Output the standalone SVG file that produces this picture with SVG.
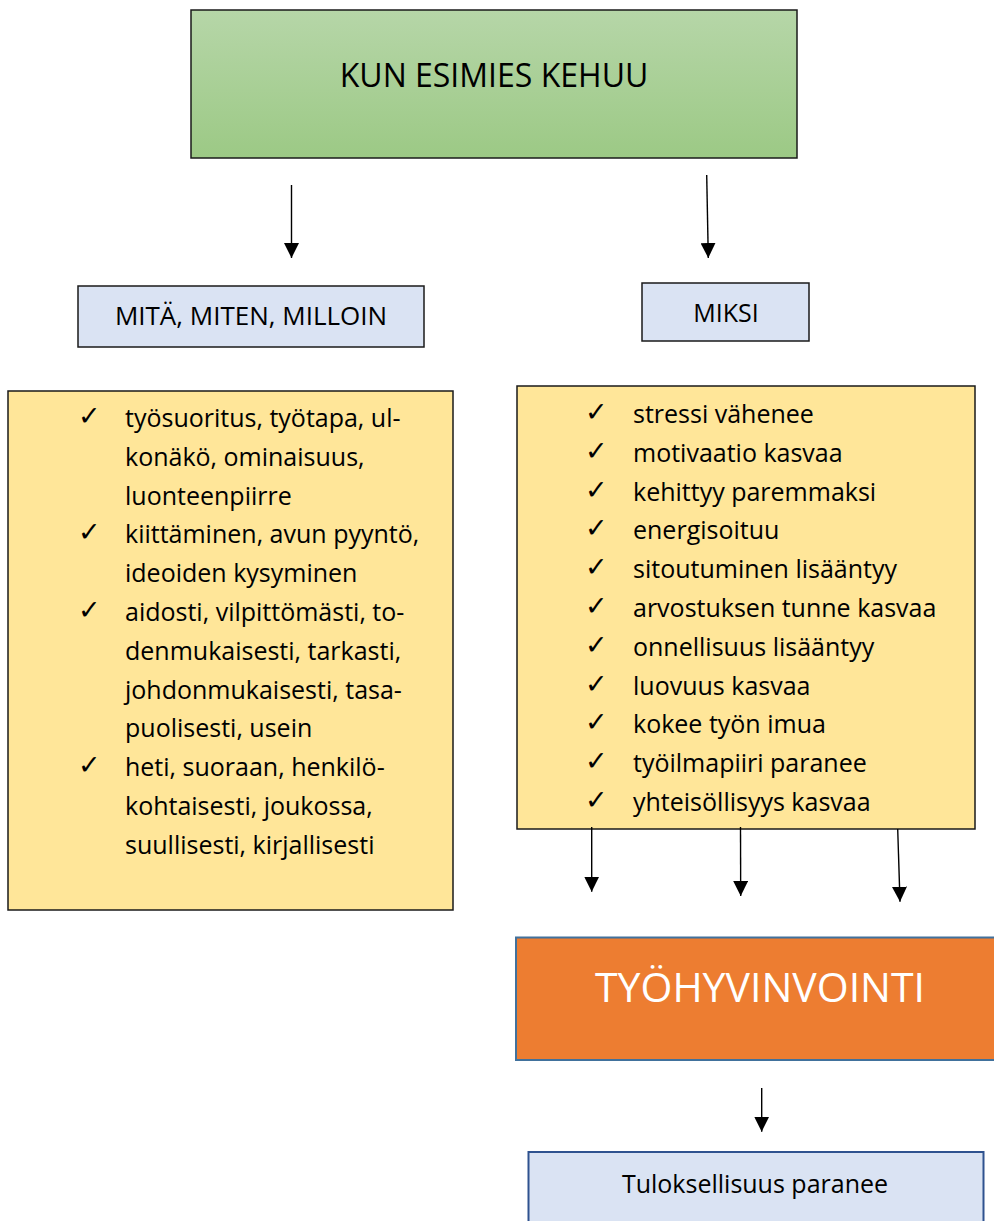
<svg xmlns="http://www.w3.org/2000/svg" width="994" height="1221" viewBox="0 0 994 1221">
  <defs>
    <linearGradient id="green" x1="0" y1="0" x2="0" y2="1">
      <stop offset="0" stop-color="#b6d6a8"/>
      <stop offset="1" stop-color="#9cc985"/>
    </linearGradient>
    <marker id="arrow" markerUnits="userSpaceOnUse" markerWidth="15" markerHeight="15" viewBox="0 0 15 15" refX="15" refY="7.5" orient="auto">
      <path d="M0,0 L15,7.5 L0,15 z" fill="#000"/>
    </marker>
  </defs>
  <style>
    .t { font-family: "Open Sans", "Noto Sans", sans-serif; fill: #000; }
    .c { text-anchor: middle; }
    .chk { font-family: "DejaVu Sans", sans-serif; font-size: 27px; fill: #000; }
    .li { font-size: 25px; }
    .box { stroke: #1a1a1a; stroke-width: 1.5; }
    .yellow { fill: #ffe699; }
    .lblue { fill: #dae3f3; }
    .conn line { stroke: #000; stroke-width: 1.4; marker-end: url(#arrow); }
  </style>

  <g id="kun-esimies-kehuu">
    <rect class="box" x="191" y="10" width="606" height="148" fill="url(#green)"/>
    <text class="t c" x="494" y="87" font-size="32">KUN ESIMIES KEHUU</text>
  </g>

  <g id="mita-miten-milloin">
    <rect class="box lblue" x="78" y="286" width="346" height="61" stroke-width="2"/>
    <text class="t c" x="251" y="325" font-size="26">MITÄ, MITEN, MILLOIN</text>
  </g>

  <g id="miksi">
    <rect class="box lblue" x="642" y="283" width="167" height="58" stroke-width="2"/>
    <text class="t c" x="726" y="322" font-size="25">MIKSI</text>
  </g>

  <g id="left-list">
    <rect class="box yellow" x="8" y="391" width="445" height="519"/>
    <g class="chk">
      <text x="78" y="425">✓</text>
      <text x="78" y="541.4">✓</text>
      <text x="78" y="619">✓</text>
      <text x="78" y="774.2">✓</text>
    </g>
    <g class="t li">
      <text x="125" y="427">työsuoritus, työtapa, ul-</text>
      <text x="125" y="465.8">konäkö, ominaisuus,</text>
      <text x="125" y="504.6">luonteenpiirre</text>
      <text x="125" y="543.4">kiittäminen, avun pyyntö,</text>
      <text x="125" y="582.2">ideoiden kysyminen</text>
      <text x="125" y="621">aidosti, vilpittömästi, to-</text>
      <text x="125" y="659.8">denmukaisesti, tarkasti,</text>
      <text x="125" y="698.6">johdonmukaisesti, tasa-</text>
      <text x="125" y="737.4">puolisesti, usein</text>
      <text x="125" y="776.2">heti, suoraan, henkilö-</text>
      <text x="125" y="815">kohtaisesti, joukossa,</text>
      <text x="125" y="853.8">suullisesti, kirjallisesti</text>
    </g>
  </g>

  <g id="right-list">
    <rect class="box yellow" x="517" y="386" width="458" height="443"/>
    <g class="chk">
      <text x="585" y="421">✓</text>
      <text x="585" y="459.8">✓</text>
      <text x="585" y="498.6">✓</text>
      <text x="585" y="537.4">✓</text>
      <text x="585" y="576.2">✓</text>
      <text x="585" y="615">✓</text>
      <text x="585" y="653.8">✓</text>
      <text x="585" y="692.6">✓</text>
      <text x="585" y="731.4">✓</text>
      <text x="585" y="770.2">✓</text>
      <text x="585" y="809">✓</text>
    </g>
    <g class="t li">
      <text x="633" y="423">stressi vähenee</text>
      <text x="633" y="461.8">motivaatio kasvaa</text>
      <text x="633" y="500.6">kehittyy paremmaksi</text>
      <text x="633" y="539.4">energisoituu</text>
      <text x="633" y="578.2">sitoutuminen lisääntyy</text>
      <text x="633" y="617">arvostuksen tunne kasvaa</text>
      <text x="633" y="655.8">onnellisuus lisääntyy</text>
      <text x="633" y="694.6">luovuus kasvaa</text>
      <text x="633" y="733.4">kokee työn imua</text>
      <text x="633" y="772.2">työilmapiiri paranee</text>
      <text x="633" y="811">yhteisöllisyys kasvaa</text>
    </g>
  </g>

  <g id="tyohyvinvointi">
    <rect x="516" y="937.5" width="490" height="122.5" fill="#ed7d31" stroke="#41719c" stroke-width="2"/>
    <text class="t c" x="760" y="1002" font-size="41" style="fill:#fff">TYÖHYVINVOINTI</text>
  </g>

  <g id="tuloksellisuus">
    <rect x="528.5" y="1152" width="455" height="90" fill="#dae3f3" stroke="#2f528f" stroke-width="2"/>
    <text class="t c" x="755" y="1193" font-size="25">Tuloksellisuus paranee</text>
  </g>

  <g id="connectors" class="conn">
    <line x1="291.5" y1="185" x2="291.5" y2="258"/>
    <line x1="706.7" y1="175" x2="708.3" y2="258"/>
    <line x1="591.7" y1="827" x2="591.7" y2="891.7"/>
    <line x1="740.5" y1="827" x2="740.7" y2="896"/>
    <line x1="897.7" y1="829" x2="900" y2="901.7"/>
    <line x1="761.7" y1="1088" x2="761.7" y2="1131.7"/>
  </g>
</svg>
